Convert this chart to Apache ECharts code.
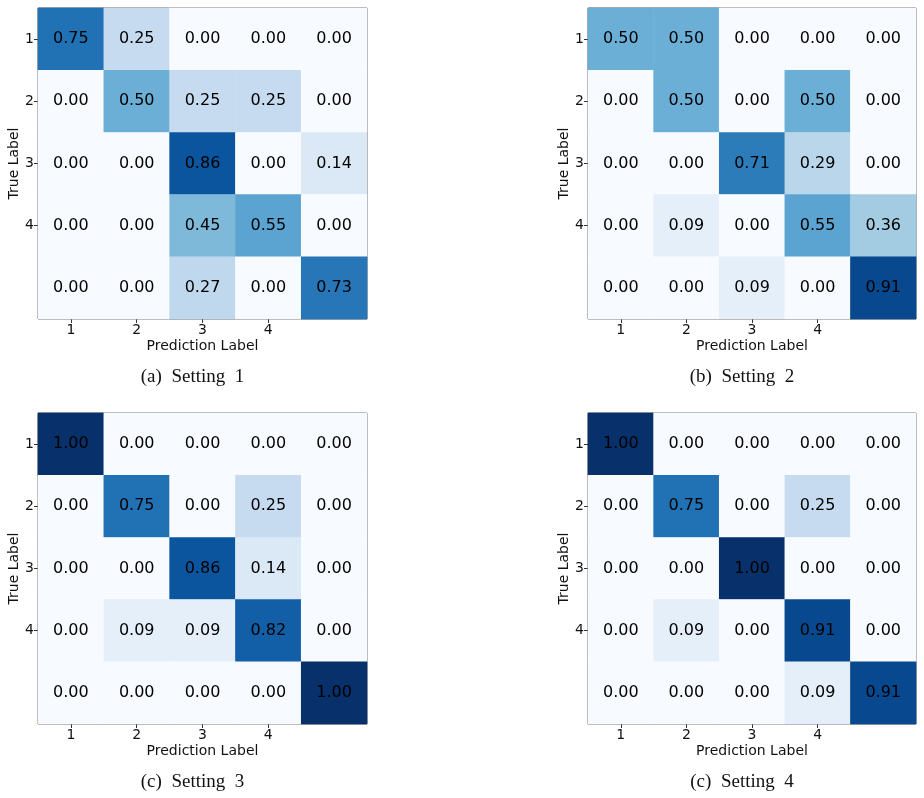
<!DOCTYPE html>
<html>
<head>
<meta charset="utf-8">
<script src="https://cdn.jsdelivr.net/npm/echarts@6/dist/echarts.min.js"></script>
<style>html,body{margin:0;padding:0;background:#fff}#c{width:924px;height:798px}</style>
</head>
<body>
<div id="c"></div>
<script>
const categories = ['1', '2', '3', '4', '5'];
const tickLabels = ['1', '2', '3', '4', ''];
const captions = ['(a)  Setting  1', '(b)  Setting  2', '(c)  Setting  3', '(c)  Setting  4'];
const xAxisName = 'Prediction Label';
const yAxisName = 'True Label';

const setting1 = [
  [0.75, 0.25, 0.00, 0.00, 0.00],
  [0.00, 0.50, 0.25, 0.25, 0.00],
  [0.00, 0.00, 0.86, 0.00, 0.14],
  [0.00, 0.00, 0.45, 0.55, 0.00],
  [0.00, 0.00, 0.27, 0.00, 0.73]
];
const setting2 = [
  [0.50, 0.50, 0.00, 0.00, 0.00],
  [0.00, 0.50, 0.00, 0.50, 0.00],
  [0.00, 0.00, 0.71, 0.29, 0.00],
  [0.00, 0.09, 0.00, 0.55, 0.36],
  [0.00, 0.00, 0.09, 0.00, 0.91]
];
const setting3 = [
  [1.00, 0.00, 0.00, 0.00, 0.00],
  [0.00, 0.75, 0.00, 0.25, 0.00],
  [0.00, 0.00, 0.86, 0.14, 0.00],
  [0.00, 0.09, 0.09, 0.82, 0.00],
  [0.00, 0.00, 0.00, 0.00, 1.00]
];
const setting4 = [
  [1.00, 0.00, 0.00, 0.00, 0.00],
  [0.00, 0.75, 0.00, 0.25, 0.00],
  [0.00, 0.00, 1.00, 0.00, 0.00],
  [0.00, 0.09, 0.00, 0.91, 0.00],
  [0.00, 0.00, 0.00, 0.09, 0.91]
];
const matrices = [setting1, setting2, setting3, setting4];

const blues = ['#f7fbff', '#deebf7', '#c6dbef', '#9ecae1', '#6baed6', '#4292c6', '#2171b5', '#08519c', '#08306b'];

const layout = [
  {left: 38, top: 8, w: 329, h: 311},
  {left: 588, top: 8, w: 328, h: 311},
  {left: 38, top: 413, w: 329, h: 311},
  {left: 588, top: 413, w: 328, h: 311}
];

const grids = [], xAxes = [], yAxes = [], series = [], titles = [];
const sans = 'DejaVu Sans';
layout.forEach((g, i) => {
  grids.push({left: g.left, top: g.top, width: g.w, height: g.h, show: true,
    borderColor: '#555', borderWidth: 1, backgroundColor: 'transparent'});
  xAxes.push({type: 'category', gridIndex: i, data: categories,
    axisLine: {show: false},
    axisTick: {show: true, alignWithLabel: true, length: 4, interval: (idx) => idx < 4, lineStyle: {color: '#333'}},
    axisLabel: {formatter: (v, idx) => tickLabels[idx], fontFamily: sans, fontSize: 14, color: '#111', margin: 4},
    splitLine: {show: false},
    name: xAxisName, nameLocation: 'middle', nameGap: 20,
    nameTextStyle: {fontFamily: sans, fontSize: 14, color: '#111'}
  });
  yAxes.push({type: 'category', gridIndex: i, data: categories, inverse: true,
    axisLine: {show: false},
    axisTick: {show: true, alignWithLabel: true, length: 4, interval: (idx) => idx < 4, lineStyle: {color: '#333'}},
    axisLabel: {formatter: (v, idx) => tickLabels[idx], fontFamily: sans, fontSize: 14, color: '#111', margin: 4},
    splitLine: {show: false},
    name: yAxisName, nameLocation: 'middle', nameGap: 16, nameRotate: 90,
    nameTextStyle: {fontFamily: sans, fontSize: 14, color: '#111'}
  });
  const data = [];
  matrices[i].forEach((row, r) => row.forEach((v, c) => data.push([c, r, v])));
  series.push({type: 'heatmap', xAxisIndex: i, yAxisIndex: i, data: data,
    label: {show: true, formatter: (p) => p.value[2].toFixed(2), fontFamily: sans, fontSize: 16, color: '#000'},
    itemStyle: {borderWidth: 0},
    emphasis: {disabled: true}
  });
  titles.push({text: captions[i], left: g.left + g.w / 2 - 15, top: g.top + g.h + 44, textAlign: 'center',
    textStyle: {fontFamily: 'Liberation Serif', fontWeight: 'normal', fontSize: 19, color: '#111'}});
});

const chart = echarts.init(document.getElementById('c'));
chart.setOption({
  animation: false,
  backgroundColor: '#fff',
  title: titles,
  grid: grids,
  xAxis: xAxes,
  yAxis: yAxes,
  visualMap: {show: false, type: 'continuous', min: 0, max: 1, seriesIndex: [0, 1, 2, 3], dimension: 2,
    inRange: {color: blues}},
  series: series
});
</script>
</body>
</html>
